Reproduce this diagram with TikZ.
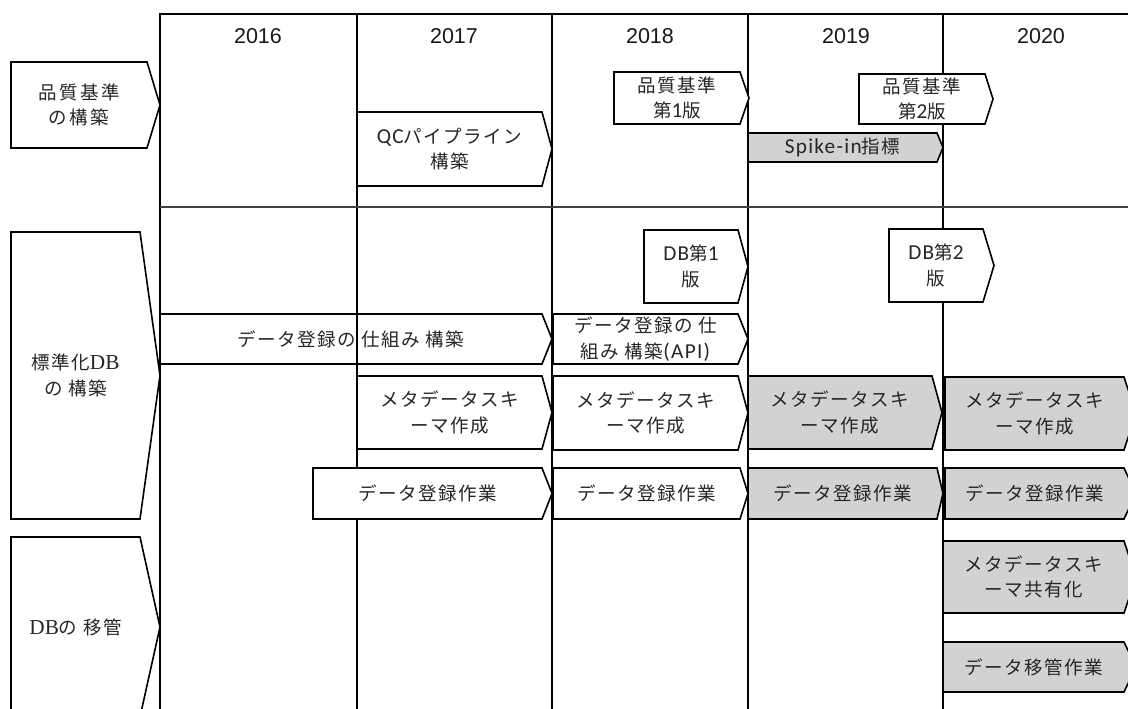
\documentclass[tikz,border=0pt]{standalone}
\usepackage{fontspec}
\setmainfont{Carlito}
\newfontfamily\jp[LetterSpace=8]{Noto Sans CJK JP}
\newfontfamily\jpw[LetterSpace=14]{Noto Sans CJK JP}
\newfontfamily\lat[Scale=1.15,LetterSpace=6]{Carlito}
\newfontfamily\hd{Liberation Sans}
\newfontfamily\sr[Scale=1.15]{Liberation Serif}
\definecolor{boxgray}{RGB}{210,210,210}
\newcommand\chev[8]{%
  \draw[#2] (#3,#4) -- (#5,#4) -- (#6,{(#4+#7)/2}) -- (#5,#7) -- (#3,#7) -- cycle;
  \node[lbl] (#1) at ({(#3+#5)/2},{(#4+#7)/2}) {#8};}
\begin{document}
\begin{tikzpicture}[x=1pt,y=-1pt,
  gridline/.style={line width=1.6pt,black},
  wbox/.style={draw=black,line width=1.6pt,fill=white,line join=miter},
  gbox/.style={draw=black,line width=1.6pt,fill=boxgray,line join=miter},
  obox/.style={draw=black,line width=1.6pt,line join=miter},
  lbl/.style={align=center,inner sep=0pt,font=\jp\fontsize{18.5}{25.5}\selectfont,text=black!85},
  year/.style={inner sep=0pt,font=\hd\fontsize{21.5}{24}\selectfont,text=black!90}]
\useasboundingbox (0,0) rectangle (1128,709);
\clip (0,0) rectangle (1128,709);
\fill[white] (0,0) rectangle (1128,709);
% grid
\draw[gridline] (160,709) -- (160,14) -- (1128,14);
\foreach \x in {552,748,943} \draw[gridline] (\x,14) -- (\x,709);
\draw[gridline,line width=2.4pt] (357,14) -- (357,709);
\draw[line width=1.2pt,black!75] (160,207) -- (1128,207);
% years
\node[year] (y2016) at (258,36) {2016};
\node[year] (y2017) at (454,36) {2017};
\node[year] (y2018) at (650,36) {2018};
\node[year] (y2019) at (846,36) {2019};
\node[year] (y2020) at (1041,36) {2020};
% left labels
\chev{lq}{wbox}{11}{62}{147}{160}{148}{\jpw 品質基準\\\jpw の構築}
\chev{ldb}{wbox}{11}{232}{140}{160}{519}{標準化{\sr DB}\\の 構築}
\chev{lmv}{wbox}{11}{537}{140}{160}{717}{{\sr DB}の 移管}
% section 1
\chev{q1}{wbox}{614}{72}{740}{749}{124}{品質基準\\第{\lat 1}版}
\chev{qc}{wbox}{357}{112}{542}{552}{186}{{\lat QC}パイプライン\\構築}
\chev{q2}{wbox}{859}{74}{985}{993}{124}{品質基準\\第{\lat 2}版}
\chev{sp}{gbox}{748}{133}{937}{943}{162}{{\lat Spike-in}指標}
% section 2
\chev{db1}{wbox}{644}{230}{738}{748}{303}{{\lat DB}第{\lat 1}\\版}
\chev{db2}{wbox}{889}{229}{983}{994}{302}{{\lat DB}第{\lat 2}\\版}
\chev{reg1}{obox}{160}{314}{542}{552}{364}{データ登録の 仕組み 構築}
\chev{reg2}{wbox}{553}{314}{738}{748}{364}{データ登録の 仕\\組み 構築{\lat (API)}}
\chev{m1}{wbox}{357}{376}{542}{552}{449}{メタデータスキ\\ーマ作成}
\chev{m2}{wbox}{553}{376}{738}{748}{450}{メタデータスキ\\ーマ作成}
\chev{m3}{gbox}{748}{376}{932}{942}{449}{メタデータスキ\\ーマ作成}
\chev{m4}{gbox}{945}{377}{1124}{1136}{450}{メタデータスキ\\ーマ作成}
\chev{d1}{wbox}{313}{468}{542}{552}{519}{データ登録作業}
\chev{d2}{wbox}{553}{468}{740}{748}{519}{データ登録作業}
\chev{d3}{gbox}{748}{468}{937}{943}{519}{データ登録作業}
\chev{d4}{gbox}{945}{468}{1124}{1136}{519}{データ登録作業}
% section 3
\chev{s1}{gbox}{943}{541}{1124}{1136}{613}{メタデータスキ\\ーマ共有化}
\chev{s2}{gbox}{943}{642}{1124}{1136}{692}{データ移管作業}
\end{tikzpicture}
\end{document}
